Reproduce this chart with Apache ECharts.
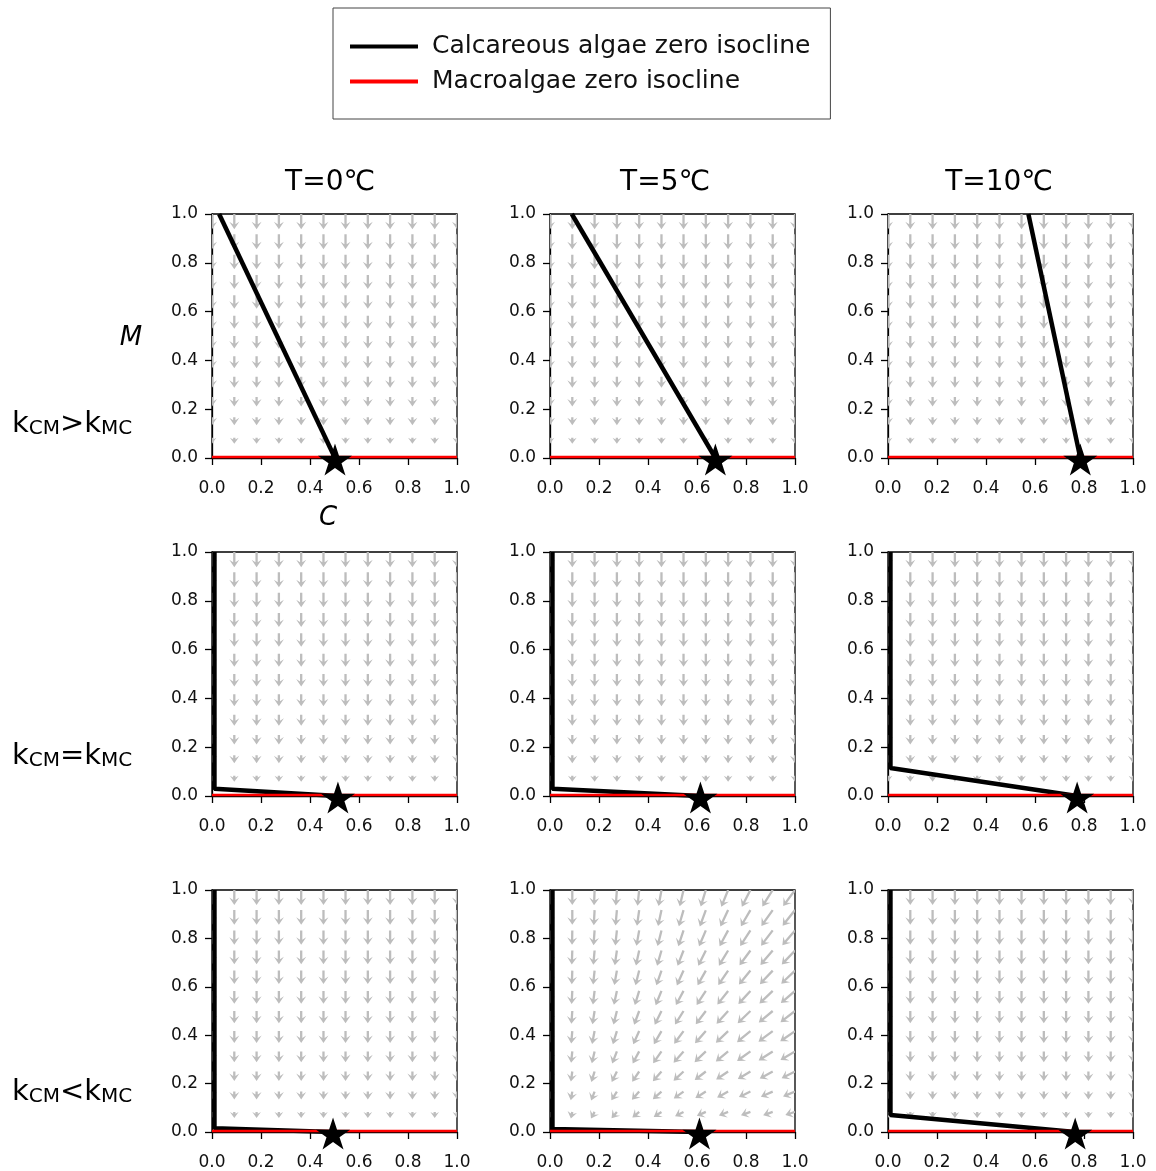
<!DOCTYPE html>
<html><head><meta charset="utf-8">
<script src="https://cdn.jsdelivr.net/npm/echarts@6/dist/echarts.min.js"></script>
<style>html,body{margin:0;padding:0;background:#fff}#c{width:1156px;height:1171px}</style>
</head><body><div id="c"></div>
<script>
// ---------- data ----------
const colTitles = ['T=0℃', 'T=5℃', 'T=10℃'];
const rowRelations = ['>', '=', '<'];
const seriesNames = ['Calcareous algae zero isocline', 'Macroalgae zero isocline'];
const axisTickValues = [0, 0.2, 0.4, 0.6, 0.8, 1.0];

// quiver grid (C columns, M rows)
const gridC = [0, 0.091, 0.182, 0.273, 0.364, 0.455, 0.545, 0.636, 0.727, 0.818, 0.909, 1.0];
const gridM = [0, 0.083, 0.167, 0.25, 0.333, 0.417, 0.5, 0.583, 0.667, 0.75, 0.833, 0.917, 1.0];
// arrow length (data units) per M row
const arrowLen = [0, 0.025, 0.033, 0.039, 0.045, 0.049, 0.051, 0.053, 0.055, 0.057, 0.059, 0.061, 0.062];
// leftward tilt (deg) of arrows in the k_CM<k_MC, T=5 panel; rows ordered by gridM index (bottom -> top)
const tiltBottomMiddle = [
  [0, 0, 0, 0, 0, 0, 0, 0, 0, 0, 0, 0],
  [0, 12, 28, 40, 50, 57, 62, 66, 68, 70, 71, 72],
  [0, 10, 21, 32, 41, 48, 54, 58, 61, 64, 66, 67],
  [0, 8, 17, 26, 34, 41, 47, 52, 56, 59, 61, 63],
  [0, 6, 13, 21, 28, 35, 41, 46, 50, 54, 57, 59],
  [0, 5, 11, 17, 24, 30, 36, 41, 46, 50, 53, 55],
  [0, 4, 9, 14, 20, 26, 32, 37, 42, 46, 50, 52],
  [0, 3, 7, 12, 17, 22, 28, 33, 38, 42, 46, 49],
  [0, 2, 6, 10, 14, 19, 24, 29, 34, 39, 43, 46],
  [0, 2, 5, 8, 12, 16, 21, 26, 31, 36, 40, 43],
  [0, 1, 4, 6, 10, 14, 18, 23, 28, 33, 37, 40],
  [0, 0, 3, 5, 8, 12, 16, 20, 25, 30, 35, 38],
  [0, 0, 2, 4, 6, 10, 13, 17, 22, 27, 32, 36]
];
const panelTilts = [null, null, null, null, null, null, null, tiltBottomMiddle, null];

// calcareous algae zero isoclines, panels row-major
const calcIsoclines = [
  [[0.029, 1.0], [0.502, 0.0]],
  [[0.089, 1.0], [0.675, 0.0]],
  [[0.573, 1.0], [0.785, 0.0]],
  [[0.01, 1.0], [0.01, 0.03], [0.514, 0.0]],
  [[0.01, 1.0], [0.01, 0.03], [0.614, 0.0]],
  [[0.01, 1.0], [0.01, 0.115], [0.772, 0.0]],
  [[0.01, 1.0], [0.01, 0.015], [0.494, 0.0]],
  [[0.01, 1.0], [0.01, 0.012], [0.61, 0.0]],
  [[0.01, 1.0], [0.01, 0.07], [0.764, 0.0]]
];
const macroIsocline = [[0, 0.004], [1, 0.004]];
const equilibriumC = [0.502, 0.675, 0.785, 0.514, 0.614, 0.772, 0.494, 0.61, 0.764];

// ---------- layout ----------
const panelLeft = [212, 550, 888];
const panelTop = [214, 552, 890];
const PW = 245, PH = 244;
const FONT = '"DejaVu Sans", Verdana, sans-serif';
const STAR = 'path://M50 0 L61.23 34.55 L97.55 34.55 L68.17 55.9 L79.39 90.45 L50 69.1 L20.61 90.45 L31.83 55.9 L2.45 34.55 L38.77 34.55 Z';

function arrowData(p) {
  const tilt = panelTilts[p];
  const out = [];
  for (let k = 0; k < gridM.length; k++) {
    for (let i = 0; i < gridC.length; i++) {
      const t = tilt ? tilt[k][i] : 0;
      const L = arrowLen[k] * (1 + t / 110);
      const a = t * Math.PI / 180;
      out.push([gridC[i], gridM[k], -L * Math.sin(a), -L * Math.cos(a)]);
    }
  }
  return out;
}

function renderArrow(params, api) {
  const c = api.value(0), m = api.value(1), dx = api.value(2), dy = api.value(3);
  const p0 = api.coord([c, m]);
  const p1 = api.coord([c + dx, m + dy]);
  const vx = p1[0] - p0[0], vy = p1[1] - p0[1];
  const Lp = Math.sqrt(vx * vx + vy * vy);
  if (Lp < 0.5) return null;
  const ux = vx / Lp, uy = vy / Lp, nx = -uy, ny = ux;
  const s = Math.max(0.8, Math.min(1, Lp / 7));
  const sw = 1.15, hw = 5.0 * s, hl = 7.5 * s, hal = 5.0 * s;
  const neck = Math.max(0, Lp - hal), barb = Math.max(0, Lp - hl);
  const P = (d, w) => [p0[0] + ux * d + nx * w, p0[1] + uy * d + ny * w];
  const pts = [P(0, sw), P(neck, sw), P(barb, hw), [p1[0], p1[1]], P(barb, -hw), P(neck, -sw), P(0, -sw)];
  return { type: 'polygon', shape: { points: pts }, style: { fill: '#bdbdbd', stroke: null } };
}

const grids = [], xAxes = [], yAxes = [], series = [];
for (let r = 0; r < 3; r++) {
  for (let c = 0; c < 3; c++) {
    const p = r * 3 + c;
    grids.push({ left: panelLeft[c], top: panelTop[r], width: PW, height: PH, show: true, borderColor: '#000', borderWidth: 1.3, backgroundColor: 'transparent', containLabel: false });
    const axisCommon = {
      gridIndex: p, type: 'value', min: 0, max: 1, interval: 0.2,
      axisLine: { show: true, onZero: false, lineStyle: { color: '#000', width: 1.3 } },
      axisTick: { show: true, inside: false, length: 7, lineStyle: { color: '#000', width: 1.3 } },
      splitLine: { show: false },
      axisLabel: { fontSize: 17, fontFamily: FONT, color: '#111', formatter: v => axisTickValues.includes(+v.toFixed(1)) ? v.toFixed(1) : '', showMinLabel: true, showMaxLabel: true, hideOverlap: false }
    };
    xAxes.push(Object.assign({}, axisCommon, { axisLabel: Object.assign({}, axisCommon.axisLabel, { margin: 22 }) }));
    yAxes.push(Object.assign({}, axisCommon, { axisLabel: Object.assign({}, axisCommon.axisLabel, { margin: 14 }) }));
    series.push({
      type: 'custom', xAxisIndex: p, yAxisIndex: p, clip: true, silent: true, z: 1,
      data: arrowData(p), encode: { x: 0, y: 1 }, renderItem: renderArrow
    });
    series.push({
      type: 'line', name: seriesNames[0], xAxisIndex: p, yAxisIndex: p, data: calcIsoclines[p],
      symbol: 'none', clip: true, z: 3, lineStyle: { color: '#000', width: 4.5 }, itemStyle: { color: '#000' }
    });
    series.push({
      type: 'line', name: seriesNames[1], xAxisIndex: p, yAxisIndex: p, data: macroIsocline,
      symbol: 'none', clip: true, z: 4, lineStyle: { color: '#f00', width: 2.5 }, itemStyle: { color: '#f00' }
    });
    series.push({
      type: 'scatter', xAxisIndex: p, yAxisIndex: p, data: [[equilibriumC[p], 0]],
      symbol: STAR, symbolSize: [34, 32], symbolOffset: [0, 1.5], z: 5, itemStyle: { color: '#000', opacity: 1 }, silent: true
    });
  }
}

const graphic = [];
const titleX = [330, 665, 999];
colTitles.forEach((t, i) => graphic.push({
  type: 'text', x: titleX[i], y: 183,
  style: { text: t, font: '28px ' + FONT, fill: '#000', align: 'center', verticalAlign: 'middle' }
}));
const rowY = [420, 752, 1088];
rowRelations.forEach((rel, i) => graphic.push({
  type: 'text', x: 12, y: rowY[i],
  style: {
    text: '{k|k}{s|CM}{k|' + rel + '}{k|k}{s|MC}', fill: '#000', verticalAlign: 'middle', align: 'left',
    rich: {
      k: { fontSize: 29, fontFamily: FONT, fill: '#000', color: '#000', verticalAlign: 'bottom', lineHeight: 37 },
      s: { fontSize: 20, fontFamily: FONT, fill: '#000', color: '#000', verticalAlign: 'bottom', lineHeight: 20 }
    }
  }
}));
graphic.push({ type: 'text', x: 131, y: 338, style: { text: 'M', font: 'italic 26px ' + FONT, fill: '#000', align: 'center', verticalAlign: 'middle' } });
graphic.push({ type: 'text', x: 328, y: 518, style: { text: 'C', font: 'italic 26px ' + FONT, fill: '#000', align: 'center', verticalAlign: 'middle' } });

const chart = echarts.init(document.getElementById('c'), null, { renderer: 'canvas' });
chart.setOption({
  animation: false,
  backgroundColor: '#fff',
  grid: grids, xAxis: xAxes, yAxis: yAxes, series: series, graphic: graphic,
  legend: {
    data: seriesNames, orient: 'vertical', left: 333, top: 8,
    padding: [26, 20, 25, 17], itemGap: 10, itemWidth: 68, itemHeight: 4, icon: 'rect',
    borderColor: '#444', borderWidth: 1, selectedMode: false,
    textStyle: { fontSize: 25, fontFamily: FONT, color: '#111', padding: [0, 0, 0, 9] }
  }
});
</script></body></html>
